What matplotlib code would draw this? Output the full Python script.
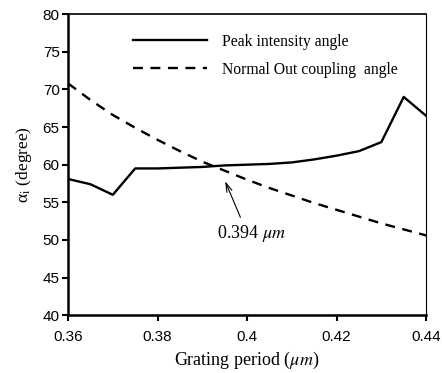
import numpy as np
import matplotlib.pyplot as plt

plt.rcParams['mathtext.fontset'] = 'stix'

# Grating period (um) and angles (degree)
period = [0.360, 0.365, 0.370, 0.375, 0.380, 0.385, 0.390, 0.395, 0.400,
          0.405, 0.410, 0.415, 0.420, 0.425, 0.430, 0.435, 0.440]
peak_angle = [58.1, 57.4, 56.0, 59.5, 59.5, 59.6, 59.7, 59.9, 60.0,
              60.1, 60.3, 60.7, 61.2, 61.8, 63.0, 69.0, 66.5]
normal_angle = [70.8, 68.6, 66.6, 64.9, 63.3, 61.8, 60.4, 59.2, 58.0,
                56.9, 55.9, 54.9, 54.0, 53.1, 52.2, 51.4, 50.6]

serif = 'Liberation Serif'
sans = 'Liberation Sans'

fig = plt.figure(figsize=(4.42, 3.73), dpi=100)
ax = fig.add_axes([0.154, 0.155, 0.81, 0.807])

ax.plot(period, peak_angle, color='black', lw=1.7, label='Peak intensity angle')
ax.plot(period, normal_angle, color='black', lw=1.7, dashes=(4.2, 3.2),
        label='Normal Out coupling  angle')

ax.set_xlim(0.36, 0.44)
ax.set_ylim(40, 80)
ax.set_xticks([0.36, 0.38, 0.40, 0.42, 0.44])
ax.set_xticklabels(['0.36', '0.38', '0.4', '0.42', '0.44'])
ax.set_yticks(np.arange(40, 81, 5))

for lab in ax.get_xticklabels() + ax.get_yticklabels():
    lab.set_fontfamily(sans)
    lab.set_fontsize(11)
ax.tick_params(direction='out', length=4, width=1.5, colors='black')
ax.tick_params(axis='x', pad=7)
ax.tick_params(axis='y', pad=2)

ax.spines['left'].set_linewidth(1.8)
ax.spines['bottom'].set_linewidth(1.8)
ax.spines['top'].set_linewidth(1.2)
ax.spines['right'].set_linewidth(0.8)

ax.set_xlabel(r'Grating period ($\mu m$)', fontfamily=serif, fontsize=13, labelpad=4)
ax.set_ylabel(r'α$_{\rm i}$ (degree)', fontfamily=serif, fontsize=12.5, labelpad=6)

leg = ax.legend(loc='upper left', bbox_to_anchor=(0.182, 0.935), frameon=False,
                prop={'family': serif, 'size': 11.3}, handlelength=4.7,
                handletextpad=0.95, labelspacing=0.75, borderpad=0,
                borderaxespad=0)

ax.annotate(r'0.394 $\mu m$', xy=(0.3951, 57.8), xytext=(0.3933, 50.9),
            fontfamily=serif, fontsize=13, va='center', ha='left',
            arrowprops=dict(arrowstyle='->,head_length=0.5,head_width=0.15',
                            color='black', lw=0.8, shrinkA=2, shrinkB=0,
                            relpos=(0.37, 1.0)))

fig.savefig('out.png', dpi=100)
